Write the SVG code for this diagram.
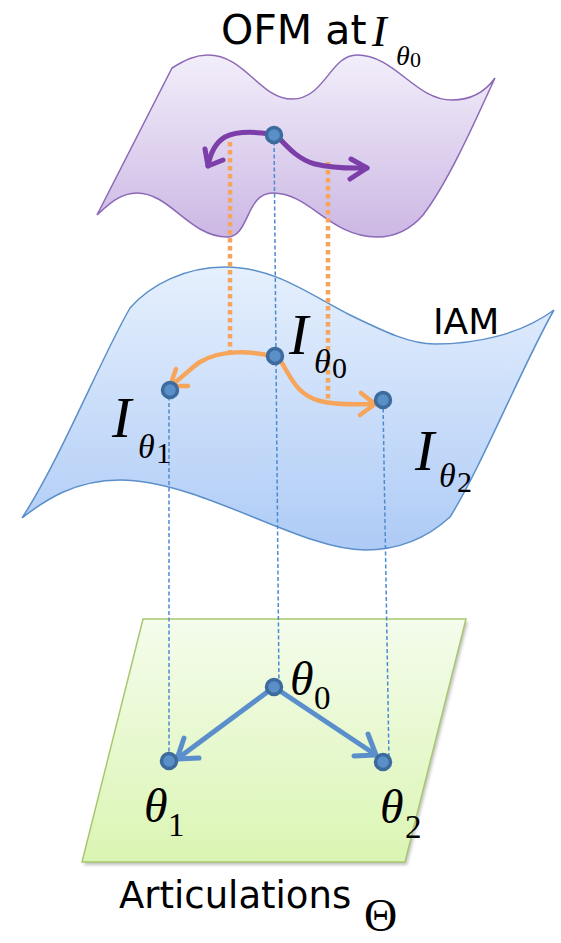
<svg xmlns="http://www.w3.org/2000/svg" width="561" height="943" viewBox="0 0 561 943">
<defs>
<linearGradient id="gPurple" x1="0" y1="0" x2="0" y2="1">
<stop offset="0" stop-color="#f2eefa"/>
<stop offset="1" stop-color="#ccb8e4"/>
</linearGradient>
<linearGradient id="gBlue" x1="0" y1="0" x2="0" y2="1">
<stop offset="0" stop-color="#e6f0fd"/>
<stop offset="1" stop-color="#aecbf6"/>
</linearGradient>
<linearGradient id="gGreen" x1="0" y1="0" x2="0" y2="1">
<stop offset="0" stop-color="#f4fcec"/>
<stop offset="1" stop-color="#dbf5b3"/>
</linearGradient>
<filter id="shadow" x="-10%" y="-10%" width="120%" height="120%">
<feGaussianBlur stdDeviation="1.5"/>
</filter>
<style>
.sans{font-family:"DejaVu Sans","Verdana",sans-serif;fill:#000}
.math{font-family:"Liberation Serif","Times New Roman",serif;fill:#000}
.it{font-style:italic}
.dash{fill:none;stroke:#4d8bd0;stroke-width:1.5;stroke-dasharray:4 2.5}
.dot{fill:none;stroke:#f5a55c;stroke-width:4.5;stroke-dasharray:4.5 3.5}
.parr{fill:none;stroke:#7c3fa9;stroke-width:5;stroke-linecap:round;stroke-linejoin:round}
.oarr{fill:none;stroke:#f6a55a;stroke-width:4.5;stroke-linecap:round;stroke-linejoin:round}
.barr{fill:none;stroke:#5b8fcb;stroke-width:5;stroke-linecap:round;stroke-linejoin:round}
.pt{fill:#5a8fc8;stroke:#3e6b9e;stroke-width:3.5}
</style>
</defs>

<g id="ofm">
<path d="M172,68 C185,60 195,55 208,55 C245,55 260,99 292,99 C325,99 330,55 357,55 C395,55 415,100 452,100 C472,100 485,92 495,78 C480,110 450,180 423,215 C410,230 395,237 377,237 C330,237 310,193 273,193 C245,193 250,237 227,237 C190,237 170,193 137,193 C120,193 108,205 97,215 Z" fill="url(#gPurple)" stroke="#8c68b6" stroke-width="1.5"/>
</g>

<g id="iam">
<path d="M130,308 C150,285 185,267 225,267 C275,267 310,295 350,315 C385,332 410,344 435,344 C475,344 520,335 554,310 C525,360 480,470 450,517 C425,540 395,550 365,550 C300,550 200,480 120,480 C75,480 45,500 22,518 C60,460 100,360 130,308 Z" fill="url(#gBlue)" stroke="#5b8fca" stroke-width="1.5"/>
</g>

<g id="articulations">
<polygon points="145,622 468,622 407,865 84,865" fill="#9a9a9a" opacity="0.6" filter="url(#shadow)"/>
<polygon points="143,619 466,619 405,862 82,862" fill="url(#gGreen)" stroke="#a6c86e" stroke-width="1.5"/>
</g>

<g id="connectors">
<line class="dash" x1="274" y1="135" x2="279" y2="687"/>
<line class="dash" x1="169" y1="390" x2="169" y2="761"/>
<line class="dash" x1="383" y1="402" x2="389" y2="760"/>
<line class="dot" x1="230" y1="142" x2="230" y2="352"/>
<line class="dot" x1="328" y1="162" x2="328" y2="402"/>
<path class="parr" d="M270,134 C250,131 235,132 225,137 C215,143 210,155 208,166"/>
<polyline class="parr" points="205,149 208,166 223,160"/>
<path class="parr" d="M278,137 C290,150 300,160 315,164 C335,169 352,168 367,168"/>
<polyline class="parr" points="351,159 367,168 350,179"/>
<path class="oarr" d="M275,357 C250,350 220,350 200,362 C192,367 182,378 170,386"/>
<polyline class="oarr" points="176,369 170,386 188,386"/>
<path class="oarr" d="M282,363 C292,380 298,395 320,401 C340,406 360,404 375,404"/>
<polyline class="oarr" points="361,393 375,404 360,415"/>
<line class="barr" x1="274" y1="687" x2="177" y2="759"/>
<polyline class="barr" points="184,738 177,759 199,758"/>
<line class="barr" x1="274" y1="687" x2="376" y2="755"/>
<polyline class="barr" points="368,734 376,755 354,756"/>
</g>

<g id="points">
<circle class="pt" cx="274" cy="135" r="7.5"/>
<circle class="pt" cx="275" cy="356" r="7.5"/>
<circle class="pt" cx="170" cy="390" r="7.5"/>
<circle class="pt" cx="383" cy="400" r="7.5"/>
<circle class="pt" cx="274" cy="687" r="7.5"/>
<circle class="pt" cx="169" cy="761" r="7.5"/>
<circle class="pt" cx="383" cy="762" r="7.5"/>
</g>

<g id="labels">
<text class="sans" x="221" y="44" font-size="41">OFM at</text>
<text class="math it" x="372" y="46" font-size="44">I</text>
<text class="math it" x="396" y="65" font-size="28">θ</text>
<text class="math" x="410" y="67" font-size="22">0</text>

<text class="sans" x="433" y="334" font-size="36">IAM</text>
<text class="math it" x="289" y="354" font-size="58">I</text>
<text class="math it" x="314" y="373" font-size="34">θ</text>
<text class="math" x="332" y="378" font-size="30">0</text>
<text class="math it" x="112" y="437" font-size="58">I</text>
<text class="math it" x="138" y="458" font-size="34">θ</text>
<text class="math" x="156" y="463" font-size="30">1</text>
<text class="math it" x="415" y="470" font-size="58">I</text>
<text class="math it" x="439" y="487" font-size="34">θ</text>
<text class="math" x="457" y="492" font-size="30">2</text>

<text class="math it" x="290" y="695" font-size="48">θ</text>
<text class="math" x="314" y="709" font-size="33">0</text>
<text class="math it" x="144" y="822" font-size="48">θ</text>
<text class="math" x="168" y="836" font-size="33">1</text>
<text class="math it" x="380" y="823" font-size="48">θ</text>
<text class="math" x="405" y="838" font-size="33">2</text>

<text class="sans" x="119" y="908" font-size="37">Articulations</text>
<text class="math" x="364" y="931" font-size="46">Θ</text>
</g>
</svg>
